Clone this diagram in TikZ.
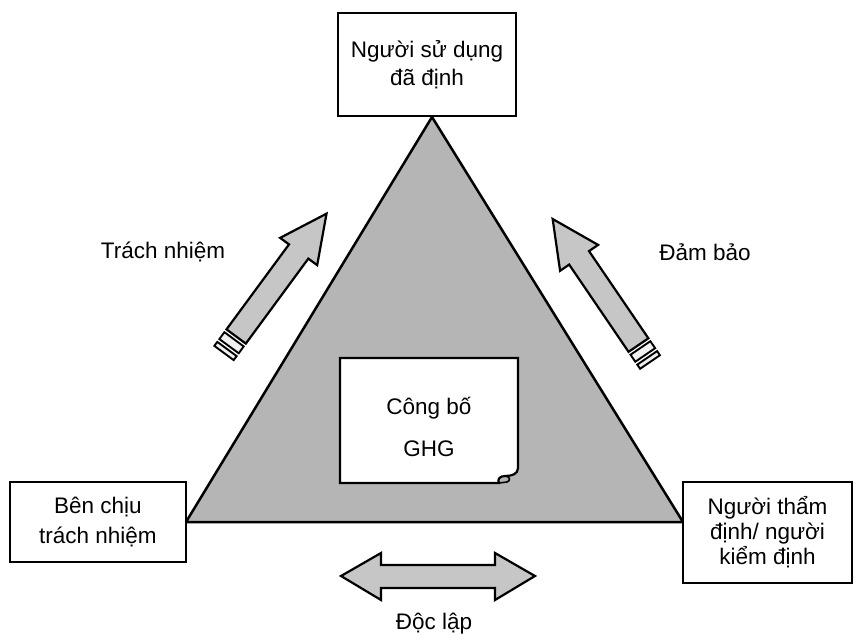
\documentclass[tikz,border=0pt]{standalone}
\usepackage{fontspec}
\setmainfont{Liberation Sans}
\begin{document}
\begin{tikzpicture}[x=1pt,y=-1pt,
  box/.style={draw, line width=2.2pt, fill=white, align=center, inner sep=0pt,
    font=\fontsize{22.5}{28}\selectfont},
  lbl/.style={font=\fontsize{22.5}{26}\selectfont, inner sep=0pt},
  tri/.style={draw, line width=2.5pt, fill=gray!58, line join=miter},
  arrowbody/.style={draw, line width=2.2pt, fill=gray!45, line join=miter},
  band/.style={draw, line width=1.9pt, fill=gray!12},
  docshape/.style={draw, line width=2.2pt, fill=white, line join=miter},
  pics/bigarrow/.style={code={
    \path[band] (0,-12) rectangle (5,12);
    \path[band] (8.5,-12) rectangle (17,12);
    \path[arrowbody] (20.5,-12) -- (126,-12) -- (126,-23) -- (173,0) -- (126,23) -- (126,12) -- (20.5,12) -- cycle;
  }}]
\useasboundingbox (0,0) rectangle (856,639);

% triangle
\coordinate (apex) at (432,117);
\coordinate (bl) at (186,522);
\coordinate (br) at (683,522);
\path[tri] (apex) -- (bl) -- (br) -- cycle;

% corner boxes
\node[box, minimum width=178pt, minimum height=103pt] (user) at (427,64.5) {Người sử dụng\\đã định};
\node[box, minimum width=176pt, minimum height=80pt, font=\fontsize{22.5}{30}\selectfont] (resp) at (98,522) {Bên chịu\\trách nhiệm};
\node[box, minimum width=169pt, minimum height=101pt, font=\fontsize{22.5}{25}\selectfont] (verif) at (767.5,532.5) {Người thẩm\\định/ người\\kiểm định};

% document in the middle
\coordinate (dnw) at (340,358);
\coordinate (dne) at (518,358);
\coordinate (dcurl) at (518,468);
\coordinate (dbot) at (499,483);
\coordinate (dsw) at (340,483);
\path[docshape] (dnw) -- (dne) -- (dcurl)
  .. controls (518,474) and (512,476) .. (505,476)
  .. controls (500,476) and (497,479) .. (499,483)
  -- (dsw) -- cycle;
\draw[line width=1.6pt] (505,476) .. controls (510,476) and (511,481) .. (507,482) -- (dbot);
\node[align=center, font=\fontsize{22.5}{42}\selectfont] (doc) at (429,427) {Công bố\\GHG};

% arrows
\pic[shift={(224,353)}, rotate=53.66] {bigarrow};
\pic[shift={(650,362)}, rotate=124.25] {bigarrow};

% double arrow
\path[arrowbody] (341,576) -- (381,553) -- (381,565) -- (495,565) -- (495,553) -- (535,576)
  -- (495,600) -- (495,588) -- (381,588) -- (381,600) -- cycle;

% labels
\node[lbl] (l1) at (163,252) {Trách nhiệm};
\node[lbl] (l2) at (705,252) {Đảm bảo};
\node[lbl] (l3) at (434,624) {Độc lập};
\end{tikzpicture}
\end{document}
